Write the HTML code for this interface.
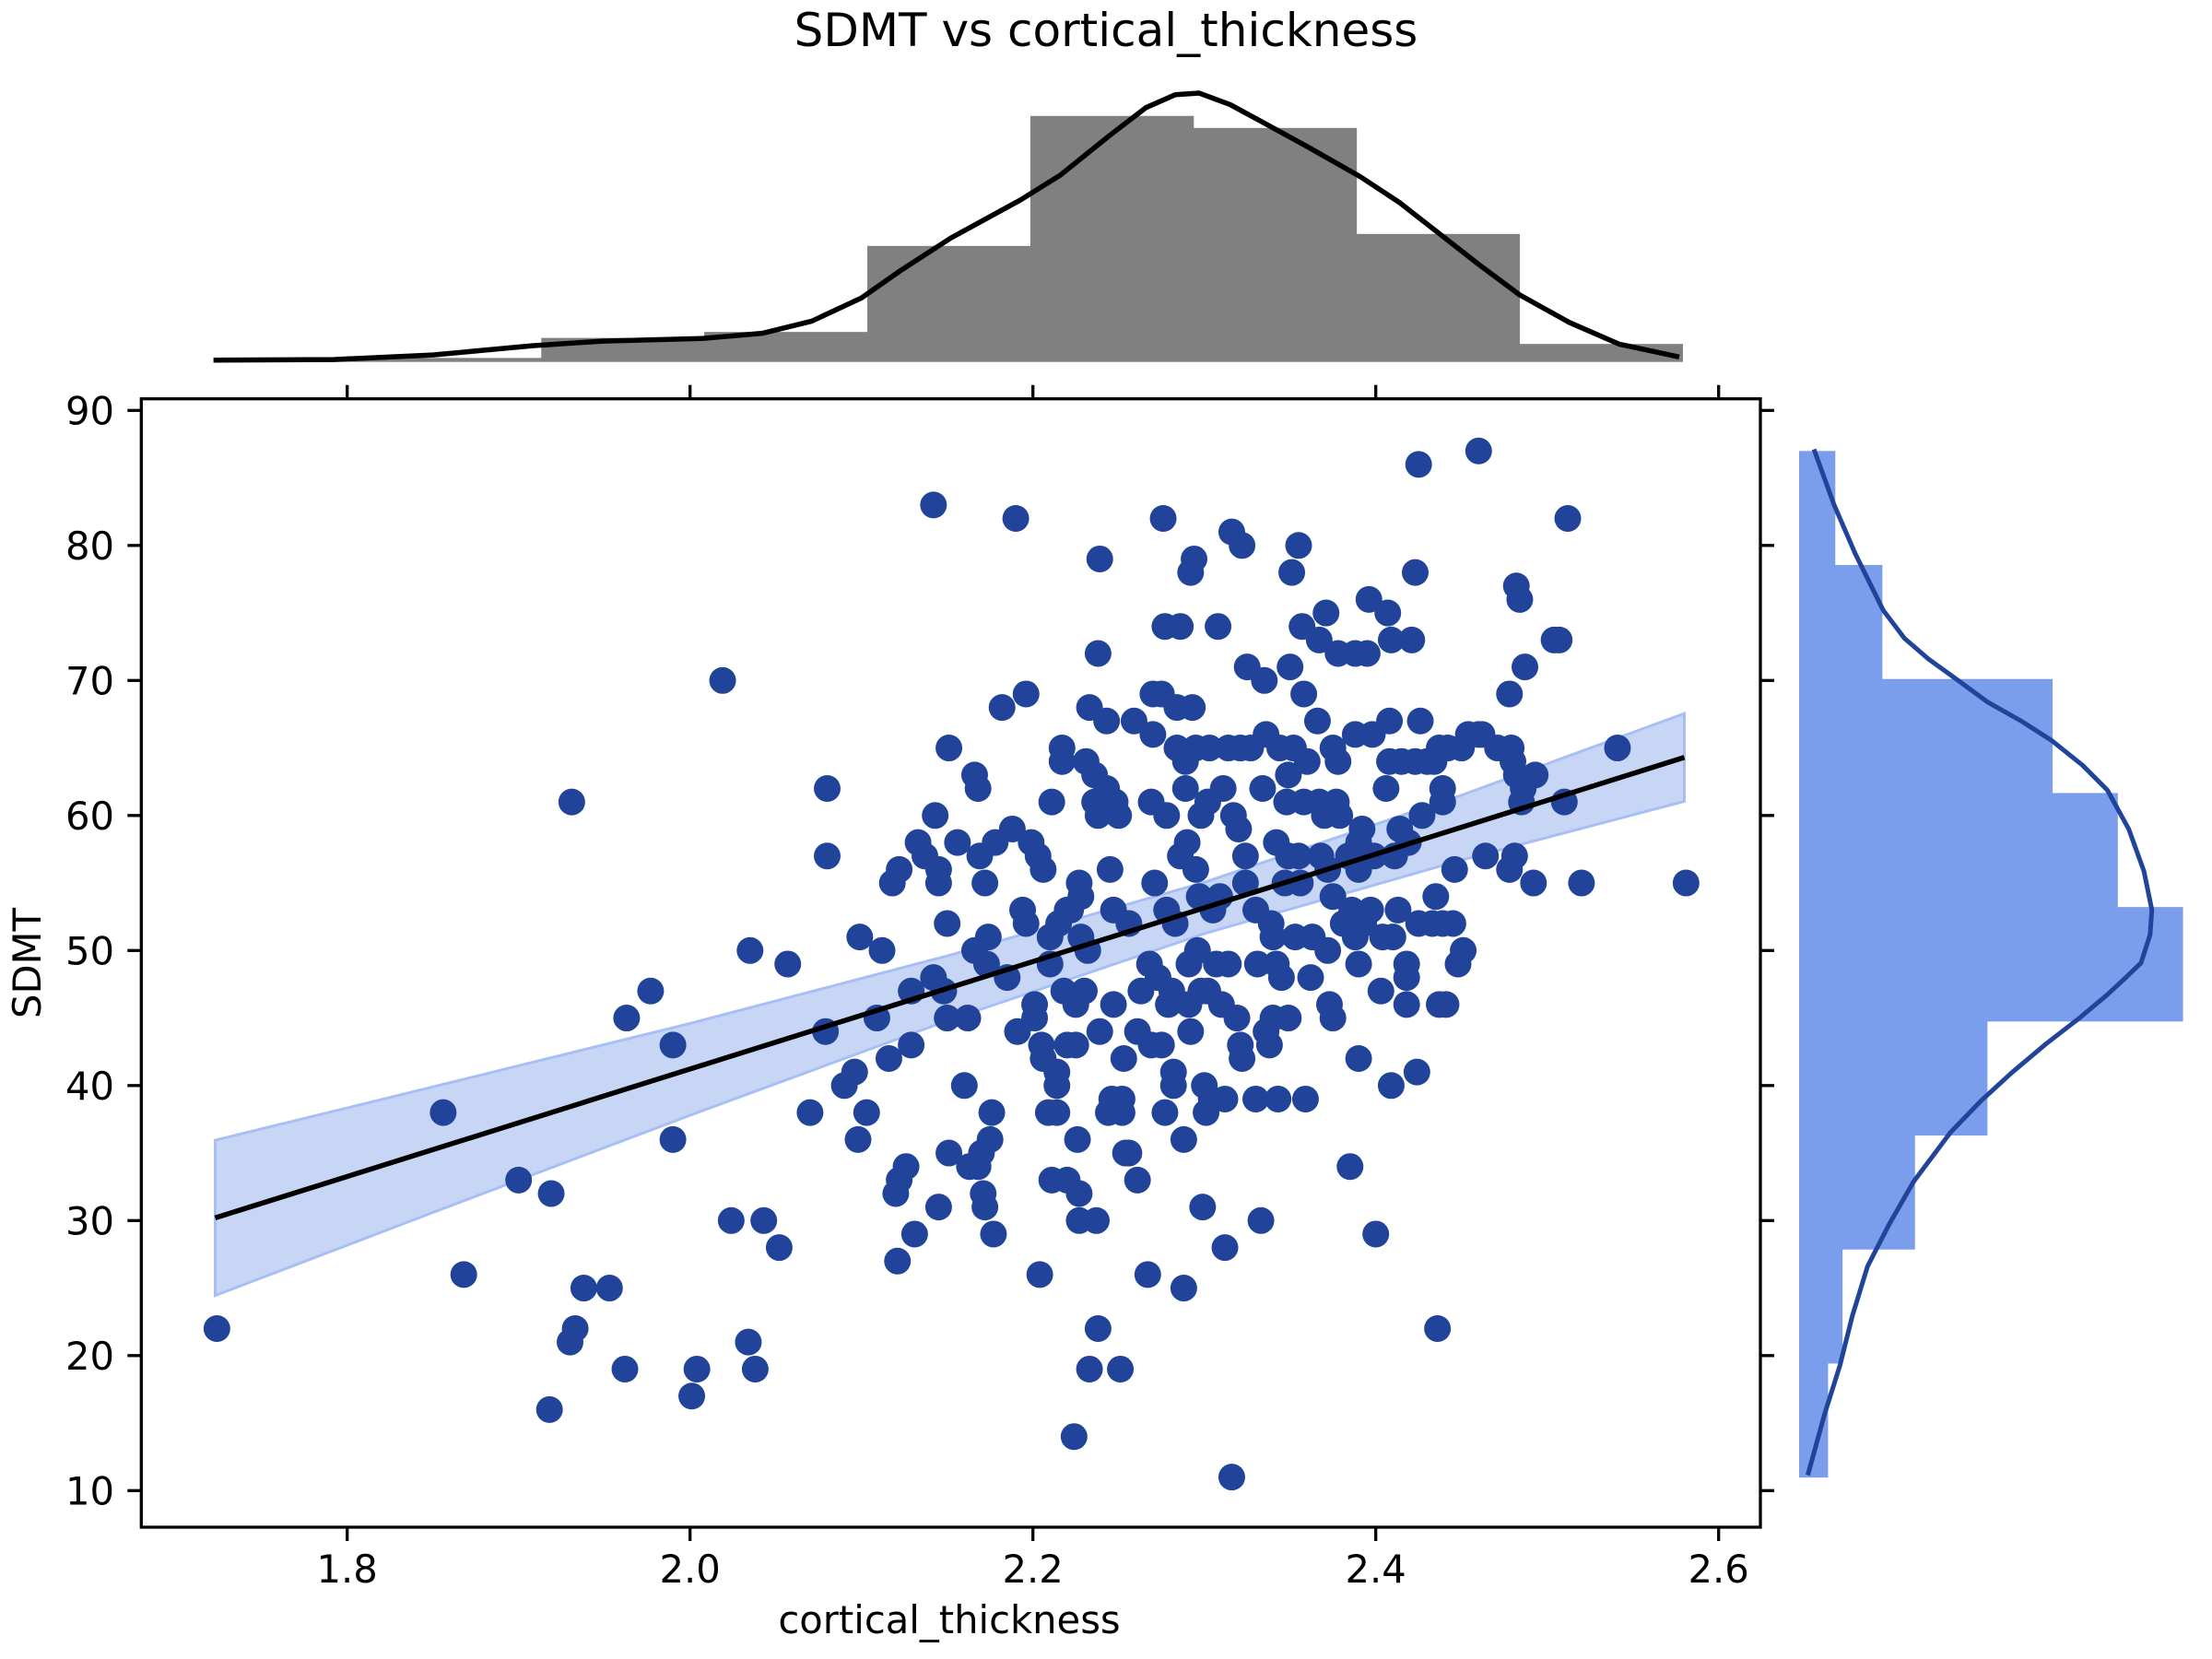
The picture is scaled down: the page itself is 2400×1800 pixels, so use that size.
<!DOCTYPE html>
<html><head><meta charset="utf-8"><title>SDMT vs cortical_thickness</title>
<style>html,body{margin:0;padding:0;background:#fff}svg{display:block}text{font-family:"DejaVu Sans","Liberation Sans",sans-serif;fill:#000}</style>
</head><body>
<svg id="chart" xmlns="http://www.w3.org/2000/svg" width="2400" height="1800" viewBox="0 0 2400 1800">
<rect width="2400" height="1800" fill="#fff"/>
<text x="1200" y="50" font-size="50" text-anchor="middle">SDMT vs cortical_thickness</text>
<g id="band"></g>
<g id="pts"></g>
<g id="reg"></g>
<g id="axes"></g>
<g id="tophist"></g>
<g id="righthist"></g>
<text x="1030" y="1772" font-size="41.7" text-anchor="middle">cortical_thickness</text>
<text x="0" y="0" font-size="41.7" text-anchor="middle" transform="translate(44,1045) rotate(-90)">SDMT</text>
</svg>
<script>
const xs = [1.724,1.856,1.868,1.900,1.919,1.931,1.918,1.930,1.933,1.938,1.953,1.962,1.963,1.977,1.990,1.990,2.001,2.004,2.019,2.024,2.035,2.034,2.038,2.043,2.052,2.057,2.070,2.080,2.080,2.079,2.090,2.096,2.098,2.099,2.103,2.109,2.112,2.116,2.118,2.120,2.121,2.122,2.122,2.126,2.129,2.131,2.129,2.133,2.137,2.142,2.143,2.145,2.142,2.145,2.145,2.148,2.150,2.151,2.150,2.151,2.156,2.160,2.162,2.163,2.166,2.168,2.166,2.168,2.170,2.171,2.172,2.169,2.172,2.173,2.175,2.176,2.177,2.178,2.174,2.182,2.185,2.188,2.190,2.191,2.196,2.196,2.194,2.199,2.203,2.204,2.201,2.201,2.205,2.206,2.206,2.209,2.210,2.210,2.211,2.211,2.214,2.214,2.214,2.215,2.217,2.217,2.218,2.220,2.220,2.220,2.222,2.224,2.225,2.225,2.226,2.227,2.227,2.227,2.228,2.228,2.230,2.231,2.232,2.233,2.233,2.237,2.236,2.236,2.238,2.239,2.238,2.238,2.239,2.240,2.243,2.244,2.243,2.245,2.246,2.247,2.247,2.248,2.250,2.251,2.252,2.252,2.253,2.254,2.256,2.256,2.259,2.261,2.261,2.263,2.267,2.268,2.269,2.269,2.270,2.270,2.271,2.273,2.275,2.275,2.276,2.277,2.277,2.278,2.278,2.279,2.281,2.282,2.282,2.283,2.284,2.284,2.286,2.286,2.288,2.288,2.289,2.289,2.290,2.291,2.291,2.292,2.292,2.293,2.294,2.295,2.295,2.296,2.297,2.298,2.298,2.299,2.300,2.301,2.302,2.302,2.303,2.304,2.305,2.307,2.308,2.309,2.310,2.311,2.312,2.312,2.314,2.314,2.316,2.316,2.317,2.319,2.320,2.321,2.321,2.322,2.322,2.324,2.324,2.325,2.327,2.330,2.330,2.331,2.333,2.334,2.335,2.336,2.336,2.338,2.339,2.340,2.340,2.342,2.342,2.343,2.344,2.345,2.347,2.348,2.349,2.349,2.349,2.350,2.351,2.352,2.353,2.355,2.355,2.356,2.357,2.358,2.358,2.359,2.360,2.362,2.363,2.367,2.366,2.367,2.368,2.370,2.371,2.372,2.372,2.373,2.375,2.375,2.375,2.378,2.377,2.378,2.379,2.381,2.384,2.385,2.386,2.388,2.388,2.388,2.390,2.390,2.390,2.390,2.392,2.393,2.395,2.396,2.397,2.398,2.399,2.400,2.403,2.404,2.406,2.407,2.408,2.408,2.409,2.409,2.410,2.411,2.413,2.414,2.415,2.418,2.418,2.418,2.419,2.421,2.423,2.423,2.424,2.425,2.425,2.426,2.427,2.430,2.433,2.434,2.435,2.436,2.437,2.437,2.439,2.439,2.439,2.441,2.442,2.445,2.446,2.448,2.450,2.451,2.454,2.460,2.460,2.462,2.464,2.471,2.478,2.478,2.479,2.480,2.481,2.482,2.482,2.484,2.485,2.486,2.487,2.492,2.493,2.504,2.507,2.510,2.512,2.520,2.541,2.581];
const ys = [22,38,26,33,32,61,16,21,22,25,25,19,45,47,43,36,17,19,70,30,50,21,19,30,28,49,38,62,57,44,40,41,36,51,38,45,50,42,55,32,27,33,56,34,43,29,47,58,57,83,60,31,48,56,55,47,52,65,45,35,58,40,45,34,63,62,50,34,35,32,31,57,55,49,36,38,29,58,51,68,48,59,82,44,69,52,53,58,57,26,46,45,43,56,42,38,49,51,61,33,40,41,38,52,65,64,47,33,53,43,53,14,43,46,36,30,32,55,54,51,47,64,50,68,19,30,63,61,72,79,22,60,44,61,67,38,62,56,39,53,46,61,60,19,38,39,42,35,35,52,67,33,44,47,26,49,61,43,69,66,55,48,43,69,82,74,38,60,53,46,47,41,40,52,65,68,57,74,36,25,62,64,58,46,49,78,44,68,79,56,65,50,54,60,47,31,40,38,47,61,65,39,53,49,74,54,46,62,28,39,49,65,81,11,60,45,59,43,65,80,42,57,55,71,65,53,39,49,30,62,70,44,66,43,52,51,45,49,58,39,65,48,55,61,45,57,63,71,78,65,51,80,57,55,74,61,69,39,64,48,51,73,67,61,57,60,75,50,56,46,45,65,54,72,61,64,60,52,57,34,53,66,51,72,49,42,56,58,59,52,72,76,53,66,57,29,47,51,62,75,67,64,40,73,51,57,53,59,64,49,48,46,58,73,78,64,41,86,52,67,60,64,52,64,54,22,65,46,62,52,61,46,65,52,56,49,65,50,66,87,66,66,57,65,56,69,65,64,57,63,77,76,61,62,71,55,63,73,73,61,82,55,65,55];
const xTicks = [1.8,2.0,2.2,2.4,2.6];
const xTickLabels = ["1.8","2.0","2.2","2.4","2.6"];
const yTicks = [10,20,30,40,50,60,70,80,90];
const yTickLabels = ["10","20","30","40","50","60","70","80","90"];
const regX = [1.723,2.58];
const regY = [30.2,64.3];
const bandX = [1.723,1.85,2.0,2.15,2.3,2.45,2.58];
const bandLo = [24.45,30.6,37.8,44.8,51.25,56.7,61.05];
const bandHi = [35.95,39.9,44.6,49.6,55.05,61.5,67.55];
const topBinStart = 1.723;
const topBinWidth = 0.0951;
const topCounts = [1,2,12,15,58,123,117,64,9];
const topKdeX = [1.722,1.792,1.850,1.908,1.949,2.007,2.042,2.071,2.100,2.123,2.152,2.193,2.216,2.245,2.266,2.283,2.297,2.315,2.338,2.361,2.391,2.414,2.437,2.460,2.484,2.513,2.542,2.577];
const topKdeY = [0.9,1.2,3.5,8.1,10.4,11.7,14.3,20.4,32,45.8,61.9,81.1,93.4,113.4,127.2,133.6,134.4,128.7,118,107.2,92.6,79.6,64.2,48.8,33.5,19.7,8.9,2.5];
const rightBinStart = 11;
const rightBinWidth = 8.444;
const rightCounts = [8,12,32,52,106,88,70,23,10];
const rightKdeY = [87.12,83.05,79.39,75.21,73.12,71.55,70.24,68.41,67.0,65.54,63.71,61.88,59.0,55.88,53.0,51.17,49.08,47.77,46.73,45.0,43.07,40.97,38.89,36.53,32.88,29.74,26.61,22.94,19.29,15.63,11.14];
const rightKdeW = [4.1,9.6,15.5,23.2,29.1,35.9,42.7,52,61.3,69.8,78.3,85.1,91,95.2,97.4,96.9,94.4,89.3,85.1,77.4,68.1,58.8,50.3,41.8,31.6,24.9,18.9,14.7,11.3,7,2.4];

const NS = "http://www.w3.org/2000/svg";
const L = 153.3, R = 1910, T = 432.7, B = 1657;
const sx = v => 376.7 + (v - 1.8) * 1860;
const sy = v => 445.3 + (90 - v) * 14.65;
const topBase = 392.7, topUnit = 2.17;
const rightBase = 1952, rightUnit = 3.93;
function mk(tag, attrs, parent){const e=document.createElementNS(NS,tag);for(const k in attrs)e.setAttribute(k,attrs[k]);parent.appendChild(e);return e;}

const bandG = document.getElementById('band');
let bd = bandX.map((x,i)=>(i?'L':'M')+sx(x)+','+sy(bandHi[i])).join('');
for(let i=bandX.length-1;i>=0;i--) bd += 'L'+sx(bandX[i])+','+sy(bandLo[i]);
const bp = mk('path',{d:bd+'Z',fill:'#c8d6f6',stroke:'#a8bff5','stroke-width':3},bandG);



const ptsG = document.getElementById('pts');
xs.forEach((x,i)=>{
  const c = mk('circle',{cx:sx(x),cy:sy(ys[i]),r:14.5,fill:'#21449a'},ptsG);
  
  
});

const regG = document.getElementById('reg');
const rl = mk('line',{x1:sx(regX[0]),y1:sy(regY[0]),x2:sx(regX[1]),y2:sy(regY[1]),stroke:'#000','stroke-width':5.5},regG);



const ax = document.getElementById('axes');
const fr = mk('rect',{x:L,y:T,width:R-L,height:B-T,fill:'none',stroke:'#000','stroke-width':3.3},ax);


xTicks.forEach((v,i)=>{
  const X = sx(v);
  const t1 = mk('line',{x1:X,y1:B,x2:X,y2:B+15,stroke:'#000','stroke-width':3.3},ax);
  
  
  const t2 = mk('line',{x1:X,y1:T,x2:X,y2:T-15,stroke:'#000','stroke-width':3.3},ax);
  
  
  const tx = mk('text',{x:X,y:1717,'font-size':41.7,'text-anchor':'middle'},ax);
  tx.textContent = xTickLabels[i];
  
  
});
yTicks.forEach((v,i)=>{
  const Y = sy(v);
  const t1 = mk('line',{x1:L,y1:Y,x2:L-15,y2:Y,stroke:'#000','stroke-width':3.3},ax);
  
  
  const t2 = mk('line',{x1:R,y1:Y,x2:R+15,y2:Y,stroke:'#000','stroke-width':3.3},ax);
  
  
  const tx = mk('text',{x:124,y:Y+15,'font-size':41.7,'text-anchor':'end'},ax);
  tx.textContent = yTickLabels[i];
  
  
});

const th = document.getElementById('tophist');
topCounts.forEach((c,i)=>{
  const x0 = sx(topBinStart + i*topBinWidth), x1 = sx(topBinStart + (i+1)*topBinWidth);
  const h = c*topUnit;
  const r = mk('rect',{x:x0,y:topBase-h,width:x1-x0+0.5,height:h,fill:'#808080'},th);
  
  
});
const tk = mk('path',{d:topKdeX.map((x,i)=>(i?'L':'M')+sx(x)+','+(topBase-topKdeY[i]*topUnit)).join(''),fill:'none',stroke:'#000','stroke-width':5.5,'stroke-linejoin':'round'},th);



const rh = document.getElementById('righthist');
rightCounts.forEach((c,i)=>{
  const y0 = sy(rightBinStart + (i+1)*rightBinWidth), y1 = sy(rightBinStart + i*rightBinWidth);
  const r = mk('rect',{x:rightBase,y:y0,width:c*rightUnit,height:y1-y0+0.5,fill:'#7b9eec'},rh);
  
  
});
const rk = mk('path',{d:rightKdeY.map((y,i)=>(i?'L':'M')+(rightBase+rightKdeW[i]*rightUnit)+','+sy(y)).join(''),fill:'none',stroke:'#21449a','stroke-width':5,'stroke-linejoin':'round'},rh);


</script>
</body></html>
